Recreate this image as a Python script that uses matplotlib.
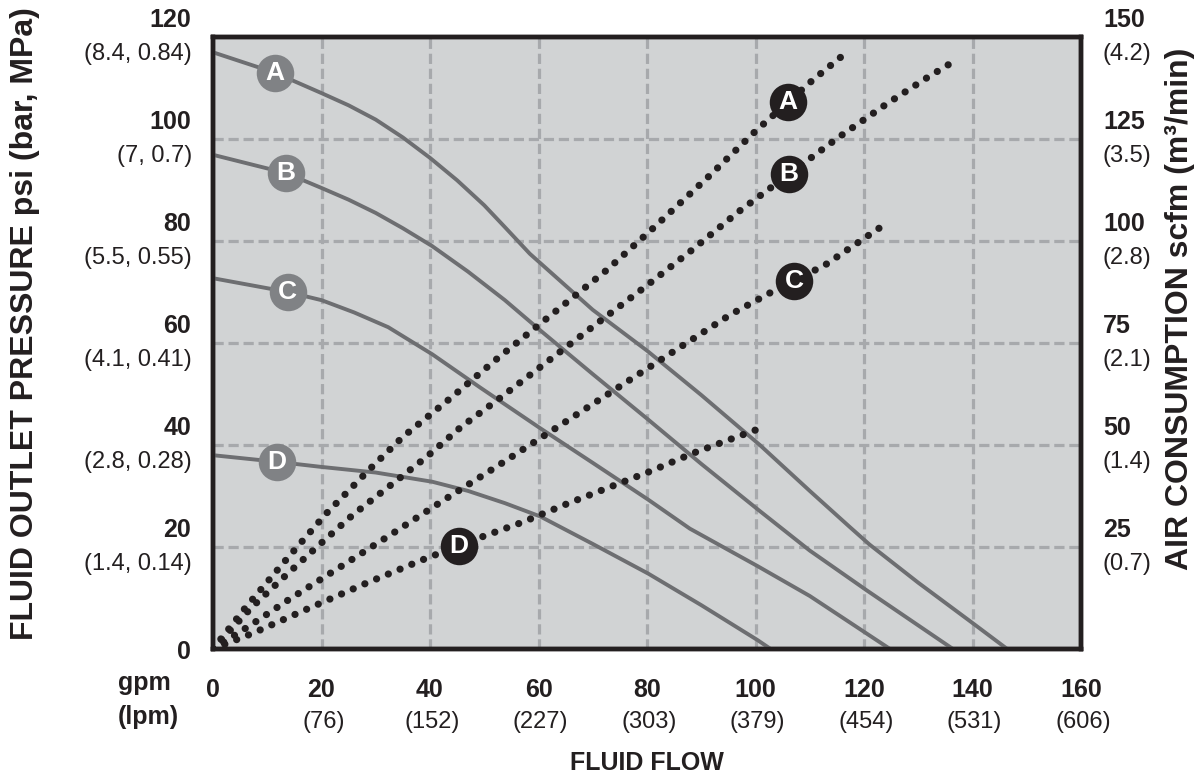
import matplotlib.pyplot as plt
import numpy as np

plt.rcParams['font.family'] = ['Liberation Sans', 'DejaVu Sans']

# axis ticks and secondary unit labels
flow_ticks = [0, 20, 40, 60, 80, 100, 120, 140, 160]
lpm_labels = ['', '(76)', '(152)', '(227)', '(303)', '(379)', '(454)', '(531)', '(606)']
psi_ticks = [0, 20, 40, 60, 80, 100, 120]
psi_sub = ['', '(1.4, 0.14)', '(2.8, 0.28)', '(4.1, 0.41)', '(5.5, 0.55)', '(7, 0.7)', '(8.4, 0.84)']
scfm_ticks = [25, 50, 75, 100, 125, 150]
scfm_sub = ['(0.7)', '(1.4)', '(2.1)', '(2.8)', '(3.5)', '(4.2)']

# fluid outlet pressure curves (gpm, psi)
flow_a = [0, 11.4, 20, 25, 30, 35, 40, 45, 50, 54, 58.4, 70, 80, 90, 100.8, 110, 117.4, 121, 130, 140, 146.4]
psi_a = [117, 113, 109, 106.6, 103.8, 100.3, 96.3, 91.9, 87, 82.5, 77.5, 66.5, 58.5, 49.8, 40, 31, 23.9,
         20.5, 13, 5.1, 0]
flow_b = [0, 13.5, 20, 25, 30, 35, 40.4, 47, 53.8, 60.3, 70, 80.2, 90, 100.5, 110, 120.5, 136.4]
psi_b = [96.9, 93.3, 90.4, 88.1, 85.5, 82.5, 79, 74, 68.4, 62.5, 53.9, 45, 36.3, 27.3, 19.3, 11.5, 0]
flow_c = [0, 13.8, 20, 26, 32.3, 40.4, 49.2, 60.3, 70, 80.2, 87.9, 100.3, 110, 124.8]
psi_c = [72.7, 70, 68.4, 66, 63.1, 57.8, 51.3, 43.3, 36.5, 29.3, 23.6, 16.3, 10.4, 0]
flow_d = [0, 11.8, 20, 30, 40.4, 47, 53.8, 60.3, 70, 80.2, 90, 100.3, 102.8]
psi_d = [38, 36.7, 35.7, 34.6, 32.8, 31, 28.6, 26, 20.6, 14.8, 8.6, 1.8, 0]

# air consumption curves (gpm, scfm)
air_flow_a = [0, 5.9, 13.3, 20.8, 28.9, 35, 43.8, 52.5, 61.6, 72.6, 81.1, 91.6, 99.9, 110.6, 117.4]
scfm_a = [0, 10, 21.6, 33.1, 44.1, 52, 61.5, 71.3, 81.1, 92.9, 103.1, 116.1, 126.8, 139.5, 146.9]
air_flow_b = [0, 7.2, 13.3, 19.4, 25.8, 32.6, 39.3, 45.7, 52.4, 70.4, 79.4, 88.3, 96.8, 115.2, 124.4, 131.6, 136.4]
scfm_b = [0, 10.3, 17.9, 25.3, 32.9, 40, 47, 54.4, 61, 79.4, 88.5, 97.8, 107.1, 125.3, 133.8, 140, 143.9]
air_flow_c = [0, 7.1, 14.2, 23.8, 33.2, 42.9, 52.5, 64.3, 78.5, 95.3, 102.7, 112.8, 124.4]
scfm_c = [0, 6, 12.3, 20.4, 28.4, 36.8, 44.9, 55.1, 67.4, 81.9, 87.3, 94.1, 104.6]
air_flow_d = [0, 7.4, 17.7, 28.2, 38.7, 49.2, 57.1, 65.1, 72.8, 80.7, 88.5, 96.6, 101.9]
scfm_d = [0, 3.9, 10, 16.1, 21.9, 27.3, 31.1, 35.5, 39.5, 43.6, 48, 52, 54.6]

letters = ['A', 'B', 'C', 'D']
psi_label_flow = [11.4, 13.5, 13.8, 11.8]
air_label_flow = [106, 106.2, 107.1, 45.3]

pressure = [(flow_a, psi_a), (flow_b, psi_b), (flow_c, psi_c), (flow_d, psi_d)]
air = [(air_flow_a, scfm_a), (air_flow_b, scfm_b), (air_flow_c, scfm_c), (air_flow_d, scfm_d)]

fig = plt.figure(figsize=(11.99, 7.78), dpi=100)
W, H = 1199, 778
ax = fig.add_axes([213 / W, (H - 649) / H, 868 / W, 612 / H])
ax.set_facecolor('#d1d3d4')
ax.set_xlim(0, 160)
ax.set_ylim(0, 120)

grid_kw = dict(color='#a7a9ac', lw=2.3, dashes=(3.2, 1.5), zorder=1)
for v in flow_ticks[1:-1]:
    ax.axvline(v, **grid_kw)
for v in psi_ticks[1:-1]:
    ax.axhline(v, **grid_kw)

badge_font = dict(color='white', fontsize=19, fontweight='bold', ha='center',
                  va='center', zorder=6)

for (fx, py), lt, lx in zip(pressure, letters, psi_label_flow):
    ax.plot(fx, py, color='#6d6e71', lw=2.8, zorder=3, solid_joinstyle='round')
    ly = np.interp(lx, fx, py)
    ax.plot(lx, ly, 'o', ms=27, color='#808285', mec='none', zorder=5)
    ax.text(lx, ly, lt, **badge_font)

ax2 = ax.twinx()
ax2.set_ylim(0, 150)
for (fx, sy), lt, lx in zip(air, letters, air_label_flow):
    ax2.plot(fx, sy, color='#231f20', lw=5.2, linestyle=(0, (0.01, 1.75)),
             dash_capstyle='round', zorder=3)
    ly = np.interp(lx, fx, sy)
    ax2.plot(lx, ly, 'o', ms=27, color='#231f20', mec='none', zorder=5)
    ax2.text(lx, ly, lt, **badge_font)

for a in (ax, ax2):
    a.tick_params(length=0, labelleft=False, labelbottom=False, labelright=False)
    for s in a.spines.values():
        s.set_linewidth(3.2)
        s.set_color('#231f20')

txt = '#231f20'
for v, sub in zip(psi_ticks, psi_sub):
    ax.annotate(str(v), xy=(0, v), xycoords=('axes fraction', 'data'),
                xytext=(-22, 17 if sub else -3), textcoords='offset pixels',
                ha='right', va='center', fontsize=18, fontweight='bold', color=txt)
    if sub:
        ax.annotate(sub, xy=(0, v), xycoords=('axes fraction', 'data'),
                    xytext=(-21, -17), textcoords='offset pixels',
                    ha='right', va='center', fontsize=17, color=txt)

for v, sub in zip(scfm_ticks, scfm_sub):
    ax2.annotate(str(v), xy=(1, v), xycoords=('axes fraction', 'data'),
                 xytext=(22, 17), textcoords='offset pixels',
                 ha='left', va='center', fontsize=18, fontweight='bold', color=txt)
    ax2.annotate(sub, xy=(1, v), xycoords=('axes fraction', 'data'),
                 xytext=(21, -17), textcoords='offset pixels',
                 ha='left', va='center', fontsize=17, color=txt)

for v, sub in zip(flow_ticks, lpm_labels):
    ax.annotate(str(v), xy=(v, 0), xycoords=('data', 'axes fraction'),
                xytext=(0, -41), textcoords='offset pixels',
                ha='center', va='center', fontsize=18, fontweight='bold', color=txt)
    if sub:
        ax.annotate(sub, xy=(v, 0), xycoords=('data', 'axes fraction'),
                    xytext=(2, -73), textcoords='offset pixels',
                    ha='center', va='center', fontsize=17, color=txt)

fig.text(118 / W, 1 - 683 / H, 'gpm', ha='left', va='center',
         fontsize=18, fontweight='bold', color=txt)
fig.text(118 / W, 1 - 717 / H, '(lpm)', ha='left', va='center',
         fontsize=18, fontweight='bold', color=txt)
fig.text(647 / W, 1 - 763 / H, 'FLUID FLOW', ha='center', va='center',
         fontsize=18, fontweight='bold', color=txt)
fig.text(25 / W, 1 - 324 / H, 'FLUID OUTLET PRESSURE psi (bar, MPa)', rotation=90,
         ha='center', va='center', fontsize=23, fontweight='bold', color=txt)
fig.text(1180 / W, 1 - 309 / H, 'AIR CONSUMPTION scfm (m\u00b3/min)', rotation=90,
         ha='center', va='center', fontsize=23, fontweight='bold', color=txt)

fig.savefig('out.png', dpi=100, facecolor='white')
